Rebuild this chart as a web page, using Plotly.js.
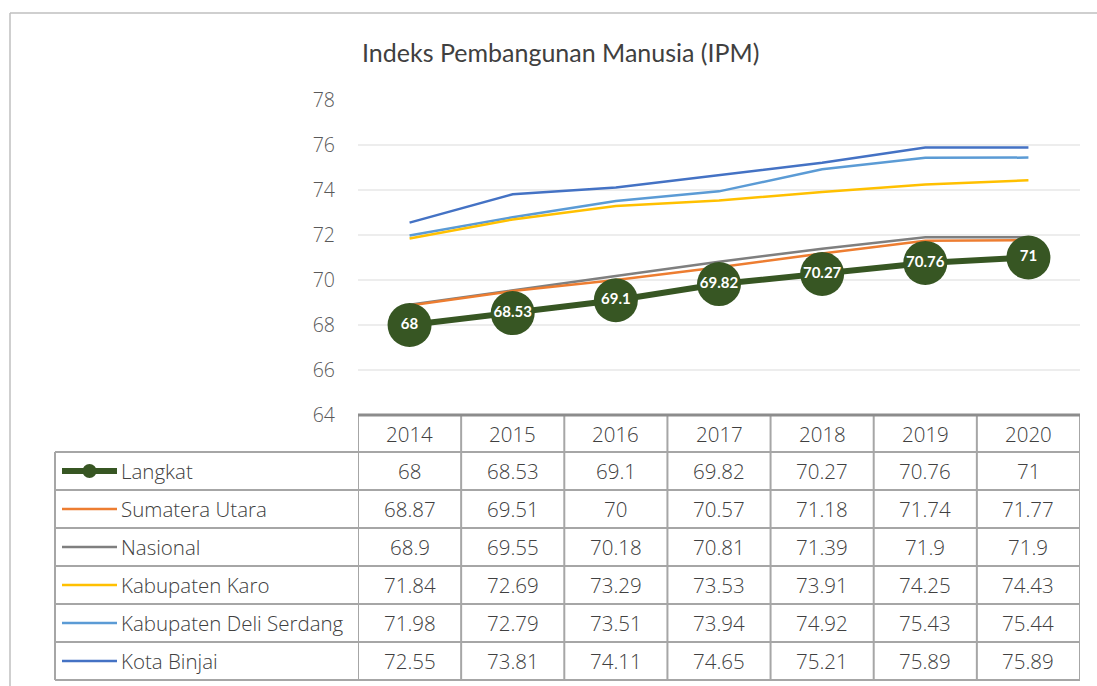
<!DOCTYPE html>
<html><head><meta charset="utf-8">
<script src="https://cdn.plot.ly/plotly-3.0.1.min.js"></script>
<style>body{margin:0;background:#fff}#c{width:1097px;height:686px}</style>
</head><body><div id="c"></div>
<script>
const years = ['2014','2015','2016','2017','2018','2019','2020'];
const langkat = [68, 68.53, 69.1, 69.82, 70.27, 70.76, 71];
const sumut = [68.87, 69.51, 70, 70.57, 71.18, 71.74, 71.77];
const nasional = [68.9, 69.55, 70.18, 70.81, 71.39, 71.9, 71.9];
const karo = [71.84, 72.69, 73.29, 73.53, 73.91, 74.25, 74.43];
const deli = [71.98, 72.79, 73.51, 73.94, 74.92, 75.43, 75.44];
const binjai = [72.55, 73.81, 74.11, 74.65, 75.21, 75.89, 75.89];
const seriesNames = ['Langkat','Sumatera Utara','Nasional','Kabupaten Karo','Kabupaten Deli Serdang','Kota Binjai'];
const seriesVals = [langkat, sumut, nasional, karo, deli, binjai];
const colors = ['#375623','#ED7D31','#7F7F7F','#FFC000','#5B9BD5','#4472C4'];

const FONT = '"Open Sans", Lato, sans-serif';
const TFONT = 'Lato, "Open Sans", sans-serif';
const L=358, R=1080, T=100, B=415, W=1097, H=686;
const px = x => (x-L)/(R-L);
const py = y => (B-y)/(B-T);

const traces = [];
for (let i = seriesNames.length-1; i >= 1; i--) {
  traces.push({x: years, y: seriesVals[i], type:'scatter', mode:'lines', name: seriesNames[i],
    line:{color: colors[i], width: 2.5}, hoverinfo:'skip'});
}
traces.push({x: years, y: langkat, type:'scatter', mode:'lines+markers+text', name:'Langkat',
  line:{color: colors[0], width: 6}, marker:{color: colors[0], size: 44},
  text: langkat.map(String), textposition:'middle center',
  textfont:{color:'#ffffff', size:15, family: TFONT, weight:'bold'}, hoverinfo:'skip'});

const shapes = [];
const ann = [];
const gridC = '#A6A6A6';
const rowEdges = [415, 452, 490, 528, 566, 604, 642, 680];
for (let r = 1; r < rowEdges.length; r++) {
  shapes.push({type:'line', xref:'paper', yref:'paper', x0: px(55), x1: px(R), y0: py(rowEdges[r]), y1: py(rowEdges[r]), line:{color:gridC, width:2}});
}
for (let c = 0; c <= years.length; c++) {
  shapes.push({type:'line', xref:'x', yref:'paper', x0: c-0.5, x1: c-0.5, y0: py(415), y1: py(680), line:{color:gridC, width:2}});
}
shapes.push({type:'line', xref:'paper', yref:'paper', x0: px(55), x1: px(55), y0: py(452), y1: py(680), line:{color:gridC, width:2}});
shapes.push({type:'line', xref:'paper', yref:'paper', x0: px(10), x1: px(1100), y0: py(13), y1: py(13), line:{color:'#BFBFBF', width:1.5}});
shapes.push({type:'line', xref:'paper', yref:'paper', x0: px(10), x1: px(10), y0: py(13), y1: py(690), line:{color:'#BFBFBF', width:1.5}});

const cellFont = {family:FONT, size:20.5, color:'#404040', weight:300};
years.forEach((yr, c) => {
  ann.push({xref:'x', yref:'paper', x: c, y: py(433.5), xanchor:'center', yanchor:'middle', text: yr, showarrow:false, font: cellFont});
});
seriesNames.forEach((nm, r) => {
  const yc = py((rowEdges[r+1]+rowEdges[r+2])/2);
  ann.push({xref:'paper', yref:'paper', x: px(119), y: yc, xanchor:'left', yanchor:'middle', text: nm, showarrow:false, font: cellFont});
  shapes.push({type:'line', xref:'paper', yref:'paper', x0: px(62), x1: px(117), y0: yc, y1: yc, line:{color: colors[r], width: r===0 ? 6 : 2.5}});
  if (r === 0) {
    shapes.push({type:'circle', xref:'paper', yref:'paper', xsizemode:'pixel', ysizemode:'pixel', xanchor: px(89.5), yanchor: yc, x0:-7, x1:7, y0:-7, y1:7, fillcolor: colors[0], line:{width:0}});
  }
  seriesVals[r].forEach((v, c) => {
    ann.push({xref:'x', yref:'paper', x: c, y: yc, xanchor:'center', yanchor:'middle', text: String(v), showarrow:false, font: cellFont});
  });
});
ann.push({xref:'paper', yref:'paper', x: px(560), y: py(52), xanchor:'center', yanchor:'middle', text:'Indeks Pembangunan Manusia (IPM)', showarrow:false, font:{family:TFONT, size:25, color:'#404040'}});

const layout = {
  width: W, height: H,
  margin: {l: L, r: W-R, t: T, b: H-B, pad: 0},
  paper_bgcolor:'#ffffff', plot_bgcolor:'#ffffff',
  showlegend: false,
  xaxis: {type:'category', range:[-0.5, 6.5], showticklabels:false, showgrid:false, zeroline:false, showline:false, fixedrange:true},
  yaxis: {range:[64, 78], dtick: 2, tick0: 64, showgrid:true, gridcolor:'#EDEDED', gridwidth:1.5, zeroline:false,
    showline:false, ticks:'', ticklabelstandoff: 22, tickfont:{family:FONT, size:19.5, color:'#595959', weight:300}},
  shapes: shapes.concat([{type:'line', xref:'paper', yref:'paper', x0:0, x1:1, y0:0, y1:0, line:{color:'#8C8C8C', width:3}}]),
  annotations: ann
};
Plotly.newPlot('c', traces, layout, {displayModeBar:false, staticPlot:true});
</script></body></html>
